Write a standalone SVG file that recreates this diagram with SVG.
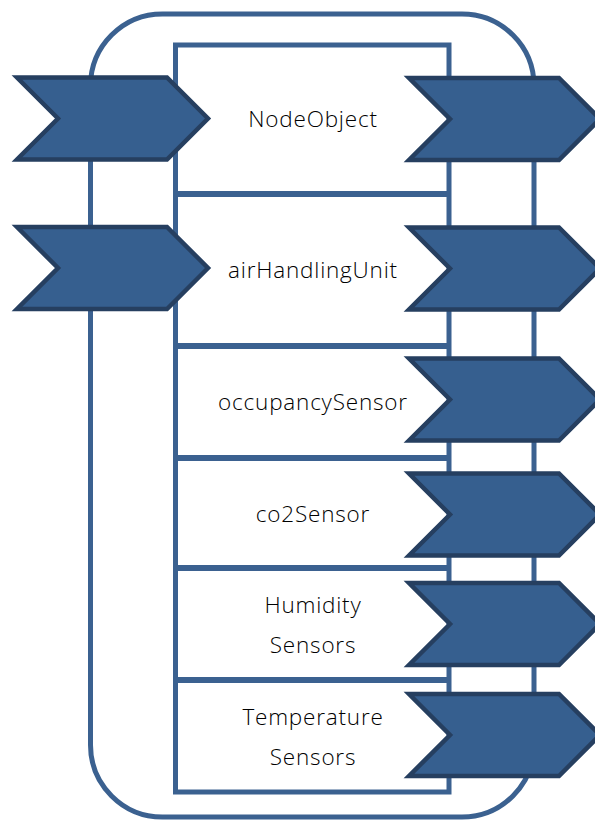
<svg xmlns="http://www.w3.org/2000/svg" width="595" height="820" viewBox="0 0 595 820">
<style>
.frame{fill:none;stroke:#3B6190;stroke-width:5}
.box{fill:#fff;stroke:#3B6190;stroke-width:5}
.div{stroke:#3B6190;stroke-width:6}
.chev{fill:#365F8F;stroke:#263F60;stroke-width:4.5;stroke-linejoin:miter}
.lbl{font-family:"Open Sans","Noto Sans",sans-serif;font-weight:300;font-size:22.5px;letter-spacing:0.8px;fill:#000;text-anchor:middle}
</style>
<defs>
<polygon id="chevShape" points="0,-41 150,-41 191,0 150,41 0,41 41,0"/>
</defs>
<rect class="frame" x="90.5" y="14" width="443.5" height="803" rx="72" ry="72"/>
<g id="container">
<rect class="box" x="175.5" y="45" width="273.5" height="747"/>
</g>
<g id="connectors">
<line class="div" x1="175" y1="194" x2="447" y2="194"/>
<line class="div" x1="175" y1="346" x2="447" y2="346"/>
<line class="div" x1="175" y1="458" x2="447" y2="458"/>
<line class="div" x1="175" y1="568" x2="447" y2="568"/>
<line class="div" x1="175" y1="680" x2="447" y2="680"/>
</g>
<g id="node-NodeObject">
<text class="lbl" x="313" y="127">NodeObject</text>
</g>
<g id="node-airHandlingUnit">
<text class="lbl" x="313" y="278">airHandlingUnit</text>
</g>
<g id="node-occupancySensor">
<text class="lbl" x="313" y="410">occupancySensor</text>
</g>
<g id="node-co2Sensor">
<text class="lbl" x="313" y="522">co2Sensor</text>
</g>
<g id="node-HumiditySensors">
<text class="lbl" x="313" y="613">Humidity</text>
<text class="lbl" x="313" y="653">Sensors</text>
</g>
<g id="node-TemperatureSensors">
<text class="lbl" x="313" y="725">Temperature</text>
<text class="lbl" x="313" y="765">Sensors</text>
</g>
<g id="chevrons">
<use href="#chevShape" class="chev" transform="translate(17,118.5)"/>
<use href="#chevShape" class="chev" transform="translate(17,268)"/>
<use href="#chevShape" class="chev" transform="translate(409,119)"/>
<use href="#chevShape" class="chev" transform="translate(409,268.5)"/>
<use href="#chevShape" class="chev" transform="translate(409,399.5)"/>
<use href="#chevShape" class="chev" transform="translate(409,514.5)"/>
<use href="#chevShape" class="chev" transform="translate(409,624)"/>
<use href="#chevShape" class="chev" transform="translate(409,735)"/>
</g>
</svg>
